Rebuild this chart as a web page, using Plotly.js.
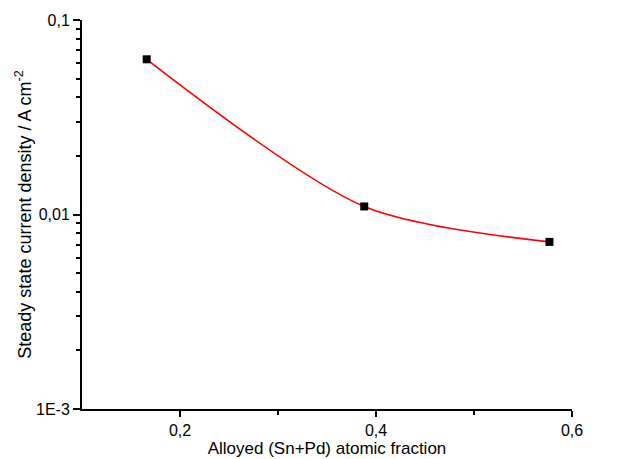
<!DOCTYPE html>
<html>
<head>
<meta charset="utf-8">
<script src="https://cdn.plot.ly/plotly-3.0.1.min.js"></script>
<style>html,body{margin:0;padding:0;background:#fff;}#chart{width:621px;height:459px;}</style>
</head>
<body>
<div id="chart"></div>
<script>
// Data
const fraction = [0.166, 0.388, 0.577];
const currentDensity = [0.0628, 0.0110, 0.00723];
const xTickVals = [0.2, 0.4, 0.6];
const xTickText = ["0,2", "0,4", "0,6"];
const yTickVals = [0.001, 0.01, 0.1];
const yTickText = ["1E-3", "0,01", "0,1"];

const yMinor = [];
[0.001, 0.01].forEach(d => { for (let k = 2; k <= 9; k++) yMinor.push(d * k); });

const font = "Liberation Sans, Arial, sans-serif";

const traces = [
  {
    x: fraction, y: currentDensity, type: "scatter", mode: "lines",
    line: {color: "#ff0000", width: 1.6, shape: "spline", smoothing: 0.8},
    hoverinfo: "skip", showlegend: false
  },
  {
    x: fraction, y: currentDensity, type: "scatter", mode: "markers",
    marker: {symbol: "square", size: 8, color: "#000000", line: {width: 0}},
    showlegend: false
  }
];

const layout = {
  width: 621, height: 459,
  margin: {l: 82, r: 49, t: 20, b: 50},
  paper_bgcolor: "#ffffff", plot_bgcolor: "#ffffff",
  font: {family: font, size: 16, color: "#000"},
  xaxis: {
    range: [0.1, 0.6], showgrid: false, zeroline: false,
    showline: true, linecolor: "#000", linewidth: 2,
    ticks: "outside", ticklen: 6, tickwidth: 2, tickcolor: "#000",
    tickmode: "array", tickvals: xTickVals, ticktext: xTickText,
    tickfont: {family: font, size: 16, color: "#000"},
    minor: {tickmode: "array", tickvals: [0.3, 0.5], ticks: "outside", ticklen: 4, tickwidth: 2, tickcolor: "#000"},
    title: {text: "Alloyed (Sn+Pd) atomic fraction", font: {family: font, size: 17, color: "#000"}, standoff: 4}
  },
  yaxis: {
    type: "log", range: [-3, -1], showgrid: false, zeroline: false,
    showline: true, linecolor: "#000", linewidth: 2,
    ticks: "outside", ticklen: 7, tickwidth: 2, tickcolor: "#000",
    tickmode: "array", tickvals: yTickVals, ticktext: yTickText,
    tickfont: {family: font, size: 16, color: "#000"},
    minor: {tickmode: "array", tickvals: yMinor, ticks: "outside", ticklen: 4, tickwidth: 2, tickcolor: "#000"},
    title: {text: "Steady state current density / A cm<sup>-2</sup>", font: {family: font, size: 18, color: "#000"}, standoff: 0}
  }
};

Plotly.newPlot("chart", traces, layout, {displayModeBar: false, staticPlot: true});
</script>
</body>
</html>
